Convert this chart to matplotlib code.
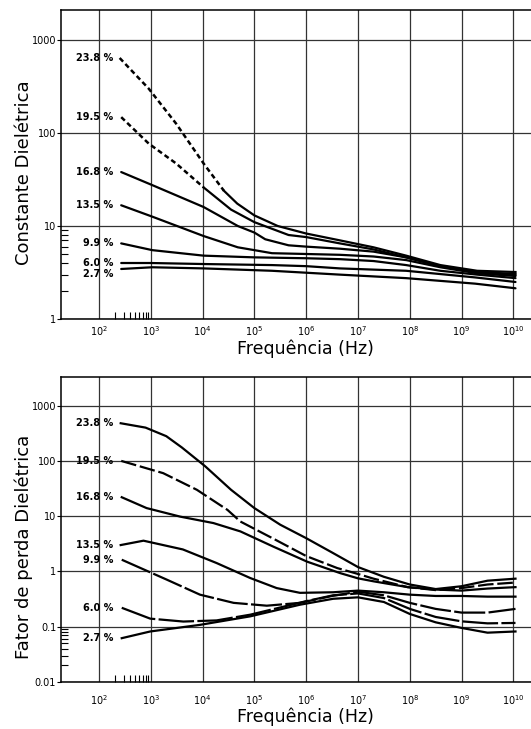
import matplotlib
matplotlib.use('Agg')
import matplotlib.pyplot as plt
from matplotlib.ticker import FixedLocator, NullFormatter
import numpy as np

plt.rcParams['font.family'] = ['DejaVu Sans']

# ------------------------------------------------------------
# data (frequency given as log10(Hz))
# ------------------------------------------------------------
labels = ['23.8 %', '19.5 %', '16.8 %', '13.5 %', '9.9 %', '6.0 %', '2.7 %']

# Constante Dielétrica
eps_f_238 = [2.40, 2.96, 3.49, 4.02, 4.41, 4.67, 5.0, 5.45, 6.0, 6.6, 7.3, 7.93, 8.59, 9.3, 10.04]
eps_v_238 = [640, 300, 126, 47, 24, 17.4, 13, 10, 8.3, 7.1, 5.9, 4.8, 3.8, 3.3, 3.2]
eps_f_195 = [2.43, 2.96, 3.49, 4.02, 4.55, 5.0, 5.66, 6.0, 6.65, 7.3, 7.93, 8.59, 9.3, 10.04]
eps_v_195 = [148, 77, 47, 26, 15, 11, 8.0, 7.6, 6.5, 5.6, 4.6, 3.7, 3.2, 3.05]
eps_f_168 = [2.43, 3.03, 4.02, 4.68, 5.0, 5.21, 5.66, 6.0, 6.65, 7.3, 7.93, 8.59, 9.3, 10.04]
eps_v_168 = [38, 27.5, 16, 10, 8.5, 7.2, 6.2, 6.0, 5.7, 5.3, 4.6, 3.7, 3.2, 2.95]
eps_f_135 = [2.43, 3.03, 4.02, 4.68, 5.0, 5.34, 6.0, 6.65, 7.3, 7.93, 8.59, 9.3, 10.04]
eps_v_135 = [16.7, 12.6, 7.8, 5.9, 5.5, 5.1, 5.0, 4.9, 4.7, 4.3, 3.6, 3.1, 2.9]
eps_f_099 = [2.43, 3.03, 4.02, 5.0, 6.0, 6.65, 7.3, 7.93, 8.59, 9.3, 10.04]
eps_v_099 = [6.5, 5.5, 4.8, 4.6, 4.5, 4.4, 4.2, 3.8, 3.3, 3.0, 2.75]
eps_f_060 = [2.43, 3.0, 4.02, 5.34, 6.0, 6.65, 7.93, 9.26, 10.04]
eps_v_060 = [4.0, 4.0, 3.9, 3.8, 3.7, 3.5, 3.3, 2.8, 2.5]
eps_f_027 = [2.43, 3.03, 4.02, 5.34, 6.65, 7.93, 9.26, 10.04]
eps_v_027 = [3.45, 3.6, 3.5, 3.3, 3.0, 2.75, 2.4, 2.14]

# Fator de perda Dielétrica
loss_f_238 = [2.42, 2.9, 3.3, 3.6, 4.05, 4.55, 5.0, 5.5, 6.0, 6.5, 7.0, 7.5, 8.0, 8.5, 9.0, 9.5, 10.04]
loss_v_238 = [480, 400, 280, 175, 80, 30, 14, 7, 4, 2.2, 1.2, 0.8, 0.58, 0.48, 0.54, 0.68, 0.74]
loss_f_195 = [2.43, 3.24, 3.89, 4.48, 4.73, 5.37, 6.0, 6.6, 7.0, 7.3, 7.96, 8.5, 9.0, 9.5, 10.04]
loss_v_195 = [100, 60, 30, 13, 8, 3.9, 1.9, 1.15, 0.9, 0.74, 0.52, 0.46, 0.50, 0.58, 0.63]
loss_f_168 = [2.44, 2.92, 3.57, 4.21, 4.73, 5.37, 6.02, 6.66, 7.0, 7.31, 7.96, 8.5, 9.0, 9.5, 10.04]
loss_v_168 = [22, 14, 9.8, 7.5, 5.3, 2.8, 1.5, 0.93, 0.75, 0.66, 0.52, 0.47, 0.45, 0.49, 0.52]
loss_f_135 = [2.42, 2.86, 3.62, 4.27, 4.92, 5.43, 5.88, 6.52, 7.0, 7.5, 8.0, 8.5, 9.0, 9.5, 10.04]
loss_v_135 = [3.0, 3.6, 2.5, 1.42, 0.76, 0.50, 0.41, 0.42, 0.45, 0.42, 0.38, 0.36, 0.36, 0.35, 0.35]
loss_f_099 = [2.44, 3.31, 3.95, 4.60, 5.24, 5.88, 6.5, 7.0, 7.5, 8.0, 8.5, 9.0, 9.5, 10.04]
loss_v_099 = [1.63, 0.71, 0.38, 0.27, 0.24, 0.27, 0.36, 0.43, 0.37, 0.27, 0.21, 0.18, 0.18, 0.21]
loss_f_060 = [2.44, 2.99, 3.63, 4.27, 4.92, 5.56, 6.0, 6.52, 7.0, 7.5, 8.0, 8.5, 9.0, 9.5, 10.04]
loss_v_060 = [0.22, 0.14, 0.124, 0.13, 0.165, 0.23, 0.29, 0.37, 0.40, 0.33, 0.21, 0.15, 0.125, 0.115, 0.117]
loss_f_027 = [2.44, 2.99, 3.95, 4.92, 5.88, 6.52, 7.0, 7.5, 8.0, 8.5, 9.0, 9.5, 10.04]
loss_v_027 = [0.062, 0.082, 0.108, 0.154, 0.25, 0.32, 0.34, 0.28, 0.17, 0.12, 0.095, 0.078, 0.082]

eps_f = [eps_f_238, eps_f_195, eps_f_168, eps_f_135, eps_f_099, eps_f_060, eps_f_027]
eps_v = [eps_v_238, eps_v_195, eps_v_168, eps_v_135, eps_v_099, eps_v_060, eps_v_027]
loss_f = [loss_f_238, loss_f_195, loss_f_168, loss_f_135, loss_f_099, loss_f_060, loss_f_027]
loss_v = [loss_v_238, loss_v_195, loss_v_168, loss_v_135, loss_v_099, loss_v_060, loss_v_027]

# dashed up to this log-frequency in the top panel, solid afterwards
eps_dash_until = [4.41, 4.02, None, None, None, None, None]
# dash pattern for the lower panel
loss_dashes = [None, (7, 1.7), None, None, (14, 1.5), (16, 1.5), None]

xticks_exp = list(range(2, 11))

# ------------------------------------------------------------
fig = plt.figure(figsize=(5.31, 7.29), dpi=100)
ax1 = fig.add_axes([0.1149, 0.5624, 0.9115, 0.4239])
ax2 = fig.add_axes([0.1149, 0.0645, 0.9115, 0.4184])

lw = 1.6
grid_kw = dict(color='#333333', linewidth=0.9)


def style_axes(ax, ylim, yticks, yticklabels, minor_decade, ylabel, ylab_y, tick_pad, xlab_y):
    ax.set_xscale('log')
    ax.set_yscale('log')
    ax.set_xlim(10 ** 1.268, 10 ** 10.61)
    ax.set_ylim(*ylim)
    ax.xaxis.set_major_locator(FixedLocator([10.0 ** e for e in xticks_exp]))
    ax.set_xticklabels([r'$10^{%d}$' % e for e in xticks_exp], fontsize=7)
    ax.xaxis.set_minor_locator(FixedLocator([k * 100 for k in range(2, 10)]))
    ax.xaxis.set_minor_formatter(NullFormatter())
    ax.yaxis.set_major_locator(FixedLocator(yticks))
    ax.set_yticklabels(yticklabels, fontsize=7)
    ax.yaxis.set_minor_locator(FixedLocator([k * minor_decade for k in range(2, 10)]))
    ax.yaxis.set_minor_formatter(NullFormatter())
    ax.tick_params(axis='x', which='major', length=0, pad=tick_pad)
    ax.tick_params(axis='x', which='minor', direction='in', length=5, width=0.8)
    ax.tick_params(axis='y', which='major', direction='out', length=3, pad=0.5)
    ax.tick_params(axis='y', which='minor', direction='in', length=5, width=0.8)
    ax.grid(True, which='major', **grid_kw)
    for s in ['left', 'bottom', 'top']:
        ax.spines[s].set_linewidth(1.1)
    ax.spines['right'].set_visible(False)
    ax.set_ylabel(ylabel, fontsize=13)
    ax.yaxis.set_label_coords(-0.058, ylab_y)
    ax.set_xlabel('Frequência (Hz)', fontsize=12.5)
    ax.xaxis.set_label_coords(0.506, xlab_y)


# top panel: Constante Dielétrica
for i, lab in enumerate(labels):
    f = 10 ** np.array(eps_f[i])
    v = np.array(eps_v[i])
    brk = eps_dash_until[i]
    if brk is None:
        ax1.plot(f, v, color='black', lw=lw, solid_capstyle='round')
    else:
        e = np.array(eps_f[i])
        ax1.plot(f[e <= brk], v[e <= brk], color='black', lw=lw + 0.2, dashes=(2.0, 1.3))
        ax1.plot(f[e >= brk], v[e >= brk], color='black', lw=lw)
    yoff = 0.88 if lab == '2.7 %' else 1.0
    ax1.text(10 ** 2.27, v[0] * yoff, lab, ha='right', va='center',
             fontsize=7, fontweight='bold')

style_axes(ax1, (1, 2100), [1, 10, 100, 1000], ['1', '10', '100', '1000'], 1,
           'Constante Dielétrica', 0.474, 3.5, -0.066)

# bottom panel: Fator de perda Dielétrica
for i, lab in enumerate(labels):
    f = 10 ** np.array(loss_f[i])
    v = np.array(loss_v[i])
    if loss_dashes[i] is None:
        ax2.plot(f, v, color='black', lw=lw)
    else:
        ax2.plot(f, v, color='black', lw=lw, dashes=loss_dashes[i])
    ax2.text(10 ** 2.27, v[0], lab, ha='right', va='center',
             fontsize=7, fontweight='bold')

style_axes(ax2, (0.01, 3300), [0.01, 0.1, 1, 10, 100, 1000],
           ['0.01', '0.1', '1', '10', '100', '1000'], 0.01,
           'Fator de perda Dielétrica', 0.444, 8, -0.085)

plt.savefig('out.png', dpi=100)
plt.close()
